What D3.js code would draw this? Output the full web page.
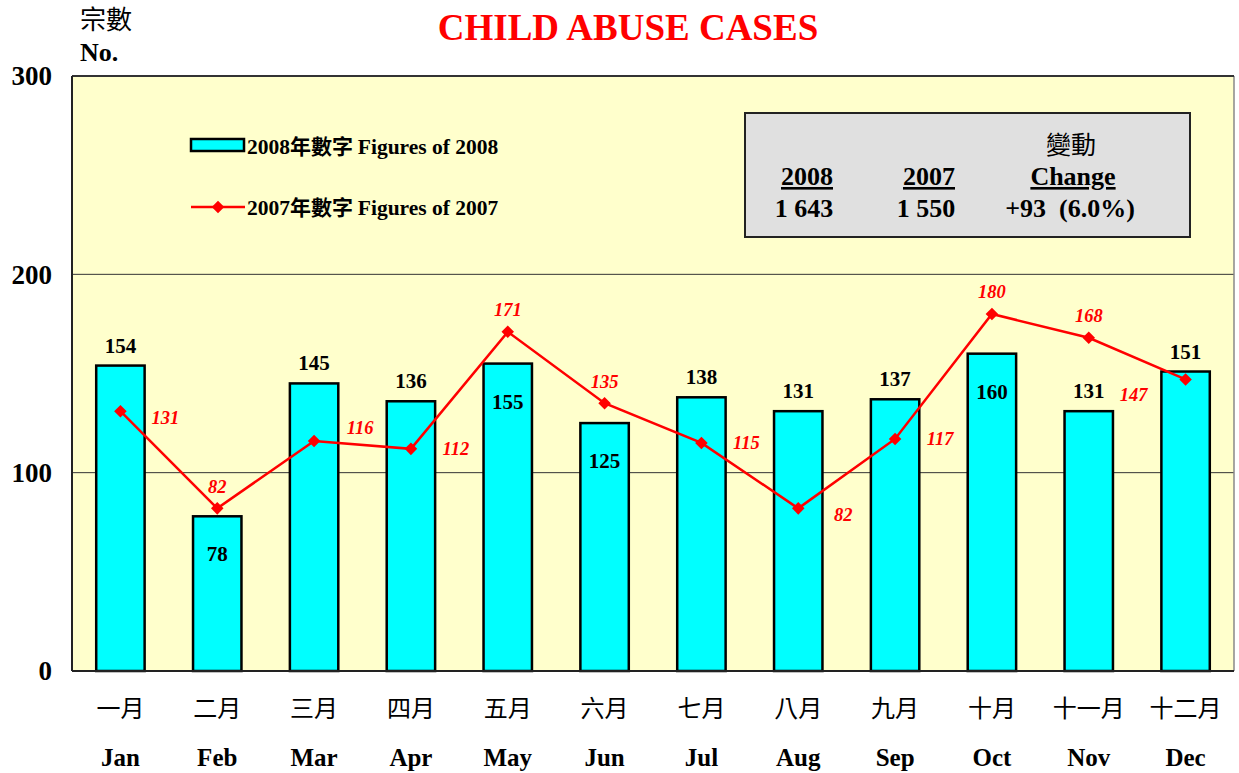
<!DOCTYPE html>
<html>
<head>
<meta charset="utf-8">
<script src="https://cdn.jsdelivr.net/npm/d3@7"></script>
<style>
    body { margin: 0; background: #ffffff; }
    svg text { font-family: "Liberation Serif", "Times New Roman", serif; }
    .cjk { font-family: "Noto Sans CJK TC", "Noto Sans CJK SC", sans-serif !important; }
</style>
</head>
<body>
<div id="chart"></div>
<script>
// chart data
const monthsZh = ["一月", "二月", "三月", "四月", "五月", "六月", "七月", "八月", "九月", "十月", "十一月", "十二月"];
const monthsEn = ["Jan", "Feb", "Mar", "Apr", "May", "Jun", "Jul", "Aug", "Sep", "Oct", "Nov", "Dec"];
const cases2008 = [154, 78, 145, 136, 155, 125, 138, 131, 137, 160, 131, 151];
const cases2007 = [131, 82, 116, 112, 171, 135, 115, 82, 117, 180, 168, 147];
const yTicks = [0, 100, 200, 300];

// where the value labels go (2008: above / inside bar, 2007: relative to marker)
const place2008 = ["above", "inside", "above", "above", "inside", "inside", "above", "above", "above", "inside", "above", "above"];
const place2007 = ["rightLow", "above", "rightHigh", "right", "above", "above", "right", "rightLow", "right", "above", "above", "leftBelow"];

// summary box
const summaryHeads = ["2008", "2007", "Change"];
const summaryValues = ["1 643", "1 550", "+93  (6.0%)"];

const width = 1239, height = 773;
const margin = {top: 76, right: 5, bottom: 102, left: 72};

const svg = d3.select("#chart").append("svg")
    .attr("width", width)
    .attr("height", height);

const x = d3.scaleBand()
    .domain(monthsEn)
    .range([margin.left, width - margin.right])
    .paddingInner(0)
    .paddingOuter(0);

const y = d3.scaleLinear()
    .domain([0, 300])
    .range([height - margin.bottom, margin.top]);

const barW = x.bandwidth() * 0.5;
const cx = i => x(monthsEn[i]) + x.bandwidth() / 2;

// plot background
svg.append("rect")
    .attr("x", margin.left)
    .attr("y", y(300))
    .attr("width", x.range()[1] - margin.left)
    .attr("height", y(0) - y(300))
    .attr("fill", "#ffffcc");

// gridlines
svg.append("g")
    .selectAll("line")
    .data(yTicks.filter(d => d > 0 && d < 300))
    .join("line")
    .attr("x1", margin.left)
    .attr("x2", x.range()[1])
    .attr("y1", d => y(d))
    .attr("y2", d => y(d))
    .attr("stroke", "#333")
    .attr("stroke-width", 1);

// plot border
svg.append("line")
    .attr("x1", x.range()[1]).attr("x2", x.range()[1])
    .attr("y1", y(300)).attr("y2", y(0))
    .attr("stroke", "#888").attr("stroke-width", 1.5);
svg.append("line")
    .attr("x1", margin.left).attr("x2", x.range()[1])
    .attr("y1", y(300)).attr("y2", y(300))
    .attr("stroke", "#333").attr("stroke-width", 2);
svg.append("line")
    .attr("x1", margin.left).attr("x2", margin.left)
    .attr("y1", y(300)).attr("y2", y(0))
    .attr("stroke", "#222").attr("stroke-width", 2);

// y tick labels
svg.append("g")
    .selectAll("text")
    .data(yTicks)
    .join("text")
    .attr("x", 52)
    .attr("y", d => y(d))
    .attr("dy", "0.35em")
    .attr("text-anchor", "end")
    .attr("font-size", 27)
    .attr("font-weight", "bold")
    .text(d => d);

// y axis title
svg.append("text")
    .attr("class", "cjk")
    .attr("x", 80).attr("y", 29)
    .attr("font-size", 26)
    .text("宗數");
svg.append("text")
    .attr("x", 80).attr("y", 61)
    .attr("font-size", 26)
    .attr("font-weight", "bold")
    .text("No.");

// title
svg.append("text")
    .attr("x", 628).attr("y", 40)
    .attr("text-anchor", "middle")
    .attr("font-size", 37)
    .attr("font-weight", "bold")
    .attr("fill", "#ff0000")
    .text("CHILD ABUSE CASES");

// bars 2008
svg.append("g")
    .selectAll("rect")
    .data(cases2008)
    .join("rect")
    .attr("x", (d, i) => cx(i) - barW / 2)
    .attr("y", d => y(d))
    .attr("width", barW)
    .attr("height", d => y(0) - y(d))
    .attr("fill", "#00ffff")
    .attr("stroke", "#000")
    .attr("stroke-width", 2.5);

// bottom axis line
svg.append("line")
    .attr("x1", margin.left).attr("x2", x.range()[1])
    .attr("y1", y(0)).attr("y2", y(0))
    .attr("stroke", "#222").attr("stroke-width", 2);

// 2008 labels
svg.append("g")
    .selectAll("text")
    .data(cases2008)
    .join("text")
    .attr("x", (d, i) => cx(i))
    .attr("y", (d, i) => place2008[i] === "inside" ? y(d) + 45 : y(d) - 13)
    .attr("text-anchor", "middle")
    .attr("font-size", 21)
    .attr("font-weight", "bold")
    .text(d => d);

// 2007 line
const line = d3.line()
    .x((d, i) => cx(i))
    .y(d => y(d));

svg.append("path")
    .datum(cases2007)
    .attr("d", line)
    .attr("fill", "none")
    .attr("stroke", "#ff0000")
    .attr("stroke-width", 2.5);

svg.append("g")
    .selectAll("path")
    .data(cases2007)
    .join("path")
    .attr("d", d3.symbol().type(d3.symbolDiamond2).size(100))
    .attr("transform", (d, i) => `translate(${cx(i)},${y(d)})`)
    .attr("fill", "#ff0000");

// 2007 labels
const off2007 = {
    right: [45, 0],
    rightLow: [45, 6],
    rightHigh: [46, -13],
    above: [0, -22],
    leftBelow: [-52, 15]
};
svg.append("g")
    .selectAll("text")
    .data(cases2007)
    .join("text")
    .attr("x", (d, i) => cx(i) + off2007[place2007[i]][0])
    .attr("y", (d, i) => y(d) + off2007[place2007[i]][1])
    .attr("dy", "0.35em")
    .attr("text-anchor", "middle")
    .attr("font-size", 18.5)
    .attr("font-weight", "bold")
    .attr("font-style", "italic")
    .attr("fill", "#ff0000")
    .text(d => d);

// x labels
const xLab = svg.append("g");
xLab.selectAll("text.zh")
    .data(monthsZh)
    .join("text")
    .attr("class", "zh cjk")
    .attr("x", (d, i) => cx(i))
    .attr("y", 717)
    .attr("text-anchor", "middle")
    .attr("font-size", 24)
    .text(d => d);
xLab.selectAll("text.en")
    .data(monthsEn)
    .join("text")
    .attr("class", "en")
    .attr("x", (d, i) => cx(i))
    .attr("y", 766)
    .attr("text-anchor", "middle")
    .attr("font-size", 25)
    .attr("font-weight", "bold")
    .text(d => d);

// legend
const legend = svg.append("g");
legend.append("rect")
    .attr("x", 191).attr("y", 139)
    .attr("width", 53).attr("height", 12)
    .attr("fill", "#00ffff")
    .attr("stroke", "#000")
    .attr("stroke-width", 2.5);
legend.append("line")
    .attr("x1", 191).attr("x2", 245)
    .attr("y1", 207).attr("y2", 207)
    .attr("stroke", "#ff0000").attr("stroke-width", 2.5);
legend.append("path")
    .attr("d", d3.symbol().type(d3.symbolDiamond2).size(100))
    .attr("transform", "translate(218,207)")
    .attr("fill", "#ff0000");

[["2008", "Figures of 2008", 146], ["2007", "Figures of 2007", 207]].forEach(([yr, txt, ly]) => {
    const t = legend.append("text")
        .attr("x", 247).attr("y", ly)
        .attr("dy", "0.35em")
        .attr("font-size", 21.5)
        .attr("font-weight", "bold");
    t.append("tspan").text(yr);
    t.append("tspan").attr("class", "cjk").attr("font-size", 21).text("年數字 ");
    t.append("tspan").text(txt);
});

// summary box
const box = svg.append("g");
box.append("rect")
    .attr("x", 745).attr("y", 113)
    .attr("width", 445).attr("height", 124)
    .attr("fill", "#e0e0e0")
    .attr("stroke", "#222")
    .attr("stroke-width", 2);

const colX = [807, 929, 1073];
box.append("text")
    .attr("class", "cjk")
    .attr("x", 1071).attr("y", 154)
    .attr("text-anchor", "middle")
    .attr("font-size", 25)
    .text("變動");
box.selectAll("text.head")
    .data(summaryHeads)
    .join("text")
    .attr("class", "head")
    .attr("x", (d, i) => colX[i])
    .attr("y", 185)
    .attr("text-anchor", "middle")
    .attr("font-size", 26)
    .attr("font-weight", "bold")
    .attr("text-decoration", "underline")
    .text(d => d);
box.selectAll("text.val")
    .data(summaryValues)
    .join("text")
    .attr("class", "val")
    .attr("x", (d, i) => colX[i] - 3)
    .attr("y", 217)
    .attr("text-anchor", "middle")
    .attr("font-size", 26)
    .attr("font-weight", "bold")
    .style("white-space", "pre")
    .text(d => d);
</script>
</body>
</html>
